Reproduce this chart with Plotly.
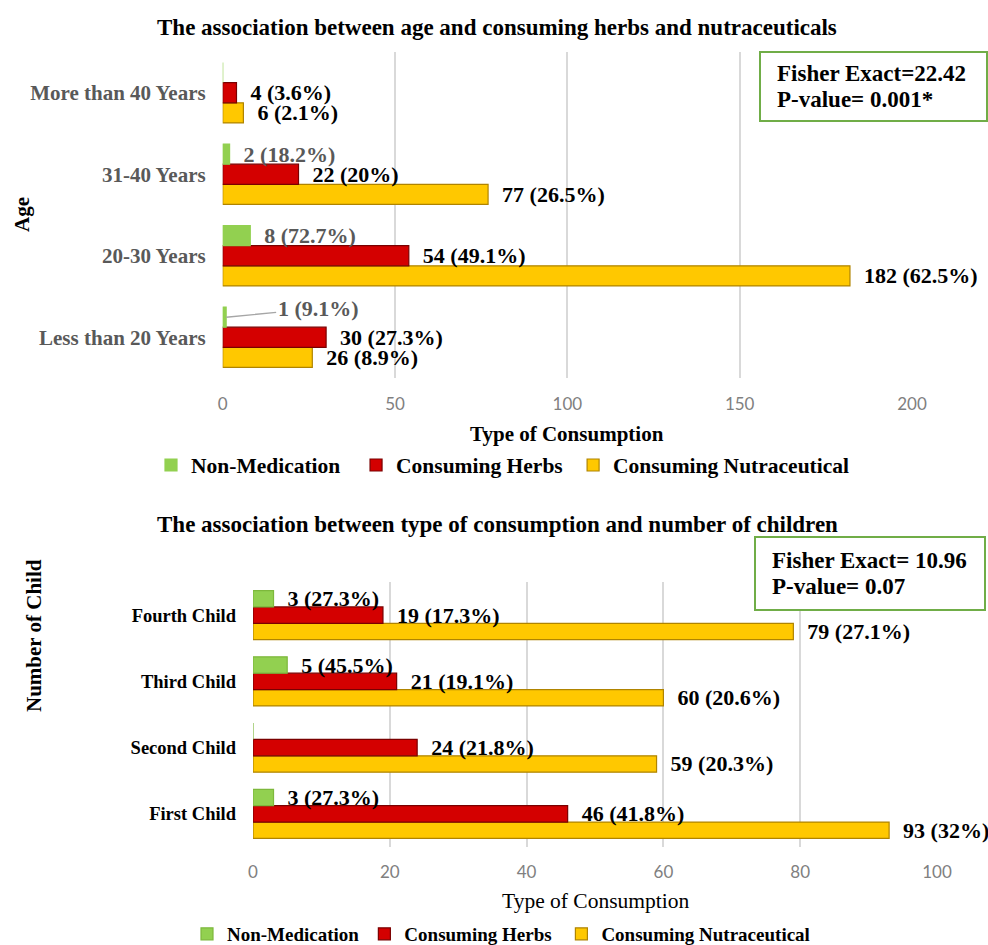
import plotly.graph_objects as go

# ---- data -------------------------------------------------------------
age_groups = ["Less than 20 Years", "20-30 Years", "31-40 Years", "More than 40 Years"]
age_nonmed = [1, 8, 2, 0]
age_nonmed_pct = ["9.1%", "72.7%", "18.2%", ""]
age_herbs = [30, 54, 22, 4]
age_herbs_pct = ["27.3%", "49.1%", "20%", "3.6%"]
age_nutra = [26, 182, 77, 6]
age_nutra_pct = ["8.9%", "62.5%", "26.5%", "2.1%"]
age_ticks = [0, 50, 100, 150, 200]

children = ["First Child", "Second Child", "Third Child", "Fourth Child"]
child_nonmed = [3, 0, 5, 3]
child_nonmed_pct = ["27.3%", "", "45.5%", "27.3%"]
child_herbs = [46, 24, 21, 19]
child_herbs_pct = ["41.8%", "21.8%", "19.1%", "17.3%"]
child_nutra = [93, 59, 60, 79]
child_nutra_pct = ["32%", "20.3%", "20.6%", "27.1%"]
child_ticks = [0, 20, 40, 60, 80, 100]

SERIF = "Liberation Serif, Times New Roman, serif"
SANS = "Lato, Liberation Sans, sans-serif"
GREEN, GREEN_EDGE = "#92D050", "#7DB83C"
RED, RED_EDGE = "#D40000", "#7A0000"
GOLD, GOLD_EDGE = "#FFC800", "#B08400"
PAD = "\u00a0\u00a0"
NB = "\u00a0"
W, H = 988, 945


def labels(vals, pcts, skip=()):
    out = []
    for i, (v, p) in enumerate(zip(vals, pcts)):
        out.append("" if (v == 0 or i in skip) else f"{PAD}{v} ({p})")
    return out


def px_x(x):
    return x / W


def px_y(y):
    return 1 - y / H


fig = go.Figure()

# Top chart: age groups (first trace sits lowest inside each group)
top_series = [
    ("Consuming Nutraceutical", age_nutra, age_nutra_pct, GOLD, GOLD_EDGE, "black", ()),
    ("Consuming Herbs" + NB, age_herbs, age_herbs_pct, RED, RED_EDGE, "black", ()),
    ("Non-Medication" + NB * 2, age_nonmed, age_nonmed_pct, GREEN, GREEN, "#595959", (0,)),
]
for name, vals, pcts, col, edge, tcol, skip in top_series:
    fig.add_trace(go.Bar(
        y=age_groups, x=vals, orientation="h", name=name,
        marker=dict(color=col, line=dict(color=edge, width=1.2)),
        text=labels(vals, pcts, skip), textposition="outside",
        constraintext="none", cliponaxis=False,
        textfont=dict(family=SERIF, size=22, color=tcol, weight="bold"),
        xaxis="x", yaxis="y", legend="legend",
    ))

# Bottom chart: number of children
bottom_series = [
    ("Consuming Nutraceutical", child_nutra, child_nutra_pct, GOLD, GOLD_EDGE),
    ("Consuming Herbs" + NB, child_herbs, child_herbs_pct, RED, RED_EDGE),
    ("Non-Medication", child_nonmed, child_nonmed_pct, GREEN, GREEN_EDGE),
]
for name, vals, pcts, col, edge in bottom_series:
    fig.add_trace(go.Bar(
        y=children, x=vals, orientation="h", name=name,
        marker=dict(color=col, line=dict(color=edge, width=1.2)),
        text=labels(vals, pcts), textposition="outside",
        constraintext="none", cliponaxis=False,
        textfont=dict(family=SERIF, size=22, color="black", weight="bold"),
        xaxis="x2", yaxis="y2", legend="legend2",
    ))

grid = dict(showgrid=True, gridcolor="#D9D9D9", gridwidth=1.5, zeroline=False,
            showline=False, ticks="", tickfont=dict(family=SANS, size=17, color="#808080"))

fig.update_layout(
    width=W, height=H,
    margin=dict(l=0, r=0, t=0, b=0, autoexpand=False),
    paper_bgcolor="white", plot_bgcolor="white",
    barmode="group", bargap=0.26, bargroupgap=0,
    xaxis=dict(domain=[px_x(222.7), px_x(912)], range=[0, 200], tickvals=age_ticks,
               anchor="y", ticklabelstandoff=14, **grid),
    yaxis=dict(domain=[px_y(378), px_y(52)], anchor="x", showgrid=False, ticks="",
               categoryorder="array", categoryarray=age_groups,
               ticklabelstandoff=16,
               tickfont=dict(family=SERIF, size=21, color="#595959", weight="bold")),
    xaxis2=dict(domain=[px_x(253), px_x(937)], range=[0, 100], tickvals=child_ticks,
                anchor="y2", ticklabelstandoff=13, **grid),
    yaxis2=dict(domain=[px_y(847), px_y(582)], anchor="x2", showgrid=False, ticks="",
                categoryorder="array", categoryarray=children,
                ticklabelstandoff=16,
                tickfont=dict(family=SERIF, size=18.5, color="black", weight="bold")),
    legend=dict(orientation="h", traceorder="reversed", x=px_x(151), y=px_y(465),
                xanchor="left", yanchor="middle",
                font=dict(family=SERIF, size=21.5, color="black", weight="bold")),
    legend2=dict(orientation="h", traceorder="reversed", x=px_x(187), y=px_y(934),
                 xanchor="left", yanchor="middle",
                 font=dict(family=SERIF, size=19, color="black", weight="bold")),
)

# Leader-lined label for the single "Less than 20" non-medication bar
fig.add_annotation(
    x=age_nonmed[0], y=age_groups[0], xref="x", yref="y", yshift=20,
    text=f"{age_nonmed[0]} ({age_nonmed_pct[0]})", showarrow=True, arrowhead=0,
    arrowcolor="#A6A6A6", arrowwidth=1.3, ax=92, ay=-9, xanchor="center",
    font=dict(family=SERIF, size=22, color="#595959", weight="bold"),
)


def paper_text(x, y, text, font, angle=0, xanchor="center"):
    fig.add_annotation(x=px_x(x), y=px_y(y), xref="paper", yref="paper", showarrow=False,
                       xanchor=xanchor, yanchor="middle", textangle=angle,
                       text=text, font=font)


# Titles
title_font = dict(family=SERIF, size=23, color="black", weight="bold")
paper_text(497, 27, "The association between age and consuming herbs and nutraceuticals", title_font)
paper_text(497, 524, "The association between type of consumption and number of children", title_font)

# Axis titles
axis_title_font = dict(family=SERIF, size=21, color="black", weight="bold")
paper_text(567, 434, "Type of Consumption", axis_title_font)
paper_text(595, 901, "Type of Consumption", dict(family=SERIF, size=21.5, color="black"))
paper_text(22, 215, "Age", axis_title_font, angle=-90)
paper_text(34, 636, "Number of Child", axis_title_font, angle=-90)

# Fisher exact test boxes
box_font = dict(family=SERIF, size=23, color="black", weight="bold")
for (x0, x1, y0, y1), lines in [
    ((760, 987, 52, 121), ["Fisher Exact=22.42", "P-value= 0.001*"]),
    ((755, 985, 537, 610), ["Fisher Exact= 10.96", "P-value= 0.07"]),
]:
    fig.add_shape(type="rect", xref="paper", yref="paper",
                  x0=px_x(x0), x1=px_x(x1), y0=px_y(y0), y1=px_y(y1),
                  line=dict(color="#70AD47", width=2), fillcolor="white", layer="above")
    mid = (y0 + y1) / 2
    for dy, txt in zip((-13, 13), lines):
        paper_text(x0 + 15, mid + dy, txt, box_font, xanchor="left")

fig.write_html("out.html")
